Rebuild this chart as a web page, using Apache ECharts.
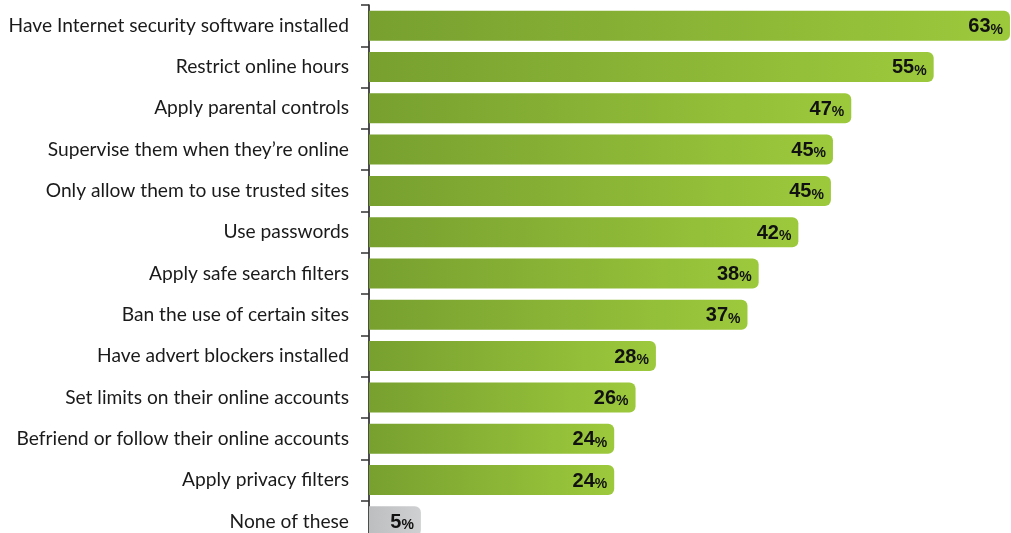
<!DOCTYPE html>
<html>
<head>
<meta charset="utf-8">
<script src="https://cdn.jsdelivr.net/npm/echarts@6/dist/echarts.min.js"></script>
<style>
html,body{margin:0;padding:0;background:#fff;overflow:hidden;}
#chart{width:1011px;height:545px;}
</style>
</head>
<body>
<div id="chart"></div>
<script>
const categories = [
  "Have Internet security software installed",
  "Restrict online hours",
  "Apply parental controls",
  "Supervise them when they\u2019re online",
  "Only allow them to use trusted sites",
  "Use passwords",
  "Apply safe search filters",
  "Ban the use of certain sites",
  "Have advert blockers installed",
  "Set limits on their online accounts",
  "Befriend or follow their online accounts",
  "Apply privacy filters",
  "None of these"
];
const values = [63, 55.5, 47.4, 45.6, 45.4, 42.2, 38.3, 37.2, 28.2, 26.2, 24.1, 24.1, 5.1];
const labels = ["63", "55", "47", "45", "45", "42", "38", "37", "28", "26", "24", "24", "5"];

const greenGrad = new echarts.graphic.LinearGradient(0, 0, 1, 0, [
  {offset: 0, color: '#77a02f'},
  {offset: 1, color: '#9cc93c'}
]);
const grayGrad = new echarts.graphic.LinearGradient(0, 0, 1, 0, [
  {offset: 0, color: '#bdbec0'},
  {offset: 1, color: '#cfd0d2'}
]);

const data = values.map((v, i) => ({
  value: v,
  itemStyle: {color: categories[i] === 'None of these' ? grayGrad : greenGrad}
}));

const chart = echarts.init(document.getElementById('chart'), null, {renderer: 'canvas'});
chart.setOption({
  animation: false,
  backgroundColor: '#ffffff',
  grid: {left: 369, top: 5, right: 0, height: 537, containLabel: false},
  xAxis: {
    type: 'value', min: 0, max: 63.1, show: false
  },
  yAxis: {
    type: 'category',
    inverse: true,
    data: categories,
    axisLine: {show: true, lineStyle: {color: '#111', width: 1.5}},
    axisTick: {show: true, length: 8, lineStyle: {color: '#333', width: 1.5}},
    axisLabel: {
      fontFamily: 'Lato, "Open Sans", sans-serif',
      fontSize: 19.2,
      color: '#1a1a1a',
      margin: 20
    },
    splitLine: {show: false}
  },
  series: [{
    type: 'bar',
    data: data,
    barWidth: 30,
    itemStyle: {borderRadius: [0, 6, 6, 0]},
    label: {
      show: true,
      position: 'insideRight',
      distance: 7,
      formatter: p => '{n|' + labels[p.dataIndex] + '}{p|%}',
      rich: {
        n: {fontFamily: '"Liberation Sans", Arial, sans-serif', fontWeight: 'bold', fontSize: 20, color: '#111', lineHeight: 22, verticalAlign: 'bottom', padding: [4, 0, 0, 0]},
        p: {fontFamily: '"Liberation Sans", Arial, sans-serif', fontWeight: 'bold', fontSize: 14, color: '#111', lineHeight: 22, verticalAlign: 'bottom', padding: [4, 0, 0, 0]}
      }
    }
  }]
});
</script>
</body>
</html>
